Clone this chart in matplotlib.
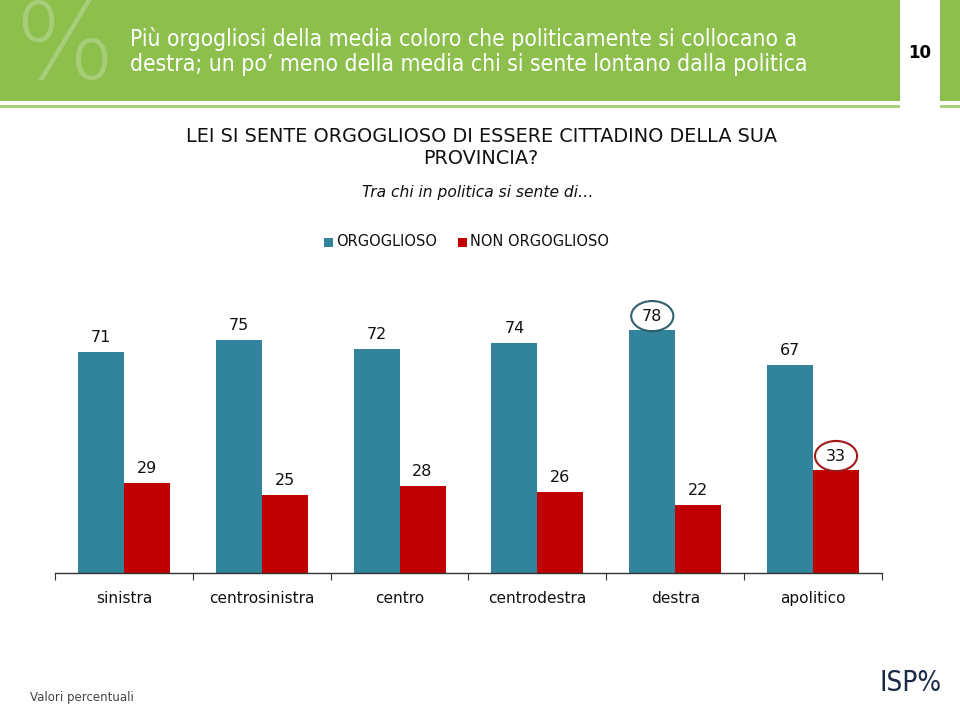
import matplotlib
matplotlib.use("Agg")
import matplotlib.pyplot as plt
from matplotlib.patches import Rectangle, Ellipse

categories = ["sinistra", "centrosinistra", "centro", "centrodestra", "destra", "apolitico"]
orgoglioso = [71, 75, 72, 74, 78, 67]
non_orgoglioso = [29, 25, 28, 26, 22, 33]
series_names = ["ORGOGLIOSO", "NON ORGOGLIOSO"]

TEAL = "#31849B"
RED = "#C00000"
GREEN = "#8CBF4C"
LIGHT_GREEN = "#A9D07A"

W, H = 960, 706
plt.rcParams["font.family"] = ["DejaVu Sans"]
fig = plt.figure(figsize=(W / 100, H / 100), dpi=100)

def fx(px):
    return px / W

def fy(py):
    return 1 - py / H

# Header band
fig.patches.append(Rectangle((0, fy(101)), fx(900), 101 / H, transform=fig.transFigure,
                             facecolor=GREEN, edgecolor="none", zorder=0))
fig.patches.append(Rectangle((fx(940), fy(101)), fx(20), 101 / H, transform=fig.transFigure,
                             facecolor=GREEN, edgecolor="none", zorder=0))
fig.patches.append(Rectangle((0, fy(108)), fx(900), 3 / H, transform=fig.transFigure,
                             facecolor=LIGHT_GREEN, edgecolor="none", zorder=0))
fig.patches.append(Rectangle((fx(940), fy(108)), fx(20), 3 / H, transform=fig.transFigure,
                             facecolor=LIGHT_GREEN, edgecolor="none", zorder=0))
fig.text(fx(64), fy(50), "%", fontsize=76, color="#A6CE79", ha="center", va="center",
         fontweight="light", zorder=1)
fig.text(fx(130), fy(39), "Più orgogliosi della media coloro che politicamente si collocano a",
         fontsize=16.4, color="white", ha="left", va="center", fontstretch="condensed", zorder=2)
fig.text(fx(130), fy(65), "destra; un po’ meno della media chi si sente lontano dalla politica",
         fontsize=16.4, color="white", ha="left", va="center", fontstretch="condensed", zorder=2)
fig.text(fx(920), fy(53), "10", fontsize=12, fontweight="bold", color="black", ha="center", va="center")

# Question titles
fig.text(fx(481), fy(136), "LEI SI SENTE ORGOGLIOSO DI ESSERE CITTADINO DELLA SUA",
         fontsize=13.9, color="#111111", ha="center", va="center")
fig.text(fx(481), fy(158), "PROVINCIA?", fontsize=13.9, color="#111111", ha="center", va="center")
fig.text(fx(478), fy(193), "Tra chi in politica si sente di…", fontsize=11.2, style="italic",
         color="#111111", ha="center", va="center")

# Legend
for sx, tx, col, name in [(328, 336, TEAL, series_names[0]), (462, 470, RED, series_names[1])]:
    fig.patches.append(Rectangle((fx(sx - 4.5), fy(246.5)), fx(9), 9 / H, transform=fig.transFigure,
                                 facecolor=col, edgecolor="none"))
    fig.text(fx(tx), fy(242), name, fontsize=10.5, color="#111111", ha="left", va="center")

# Chart axes
top_px, base_px, left_px, right_px = 262, 573, 55, 882
ax = fig.add_axes([fx(left_px), fy(base_px), fx(right_px - left_px), (base_px - top_px) / H])
ax.set_facecolor("none")
n = len(categories)
xs = list(range(n))
bw = 1 / 3
ax.bar([x - bw / 2 for x in xs], orgoglioso, width=bw, color=TEAL, zorder=2)
ax.bar([x + bw / 2 for x in xs], non_orgoglioso, width=bw, color=RED, zorder=2)
ax.set_xlim(-0.5, n - 0.5)
ax.set_ylim(0, 100)

for i in xs:
    ax.text(i - bw / 2, orgoglioso[i] + 4.6, str(orgoglioso[i]), ha="center", va="center",
            fontsize=11.5, color="#111111", zorder=4)
    ax.text(i + bw / 2, non_orgoglioso[i] + 4.6, str(non_orgoglioso[i]), ha="center", va="center",
            fontsize=11.5, color="#111111", zorder=4)

# Highlight ellipses
hi_o = orgoglioso.index(max(orgoglioso))
hi_n = non_orgoglioso.index(max(non_orgoglioso))
for xc, val, col in [(hi_o - bw / 2, orgoglioso[hi_o], "#2F5F6E"), (hi_n + bw / 2, non_orgoglioso[hi_n], "#A01818")]:
    for dw, dh in [(0, 0), (0.012, 0.6)]:
        ax.add_patch(Ellipse((xc, val + 4.6), 0.30 + dw, 9.4 + dh, facecolor="none",
                             edgecolor=col, linewidth=0.9, zorder=3, clip_on=False))

for s in ["top", "right", "left"]:
    ax.spines[s].set_visible(False)
ax.spines["bottom"].set_color("#333333")
ax.spines["bottom"].set_linewidth(1.0)
ax.set_yticks([])
ax.set_xticks([x - 0.5 for x in range(n + 1)])
ax.set_xticklabels([])
ax.tick_params(axis="x", which="major", direction="out", length=5, color="#333333")
ax.set_xticks(xs, minor=True)
ax.set_xticklabels(categories, minor=True, fontsize=11.1, color="#111111")
ax.tick_params(axis="x", which="minor", length=0, pad=13)

# Footer
fig.text(fx(30), fy(697), "Valori percentuali", fontsize=8.5, color="#444444", ha="left", va="center")
fig.text(fx(911), fy(683), "ISP%", fontsize=20, color="#1B2A47", ha="center", va="center",
         fontweight="light", fontstretch="condensed")

fig.savefig("out.png", dpi=100)
